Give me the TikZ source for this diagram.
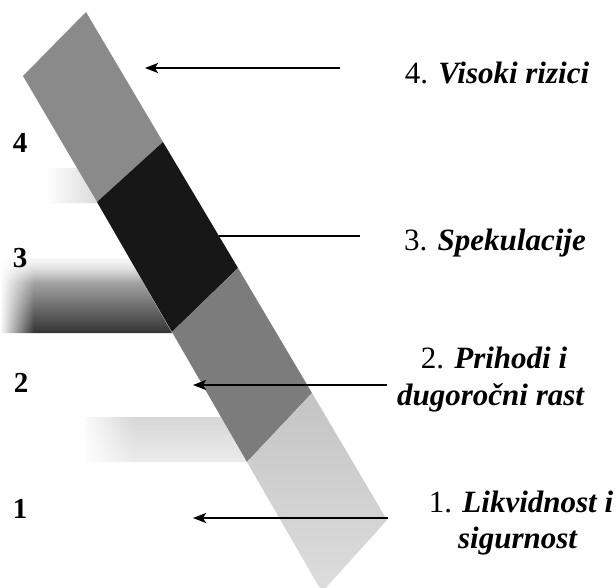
\documentclass[tikz,border=0pt]{standalone}
\usepackage{fontspec}
\setmainfont{Liberation Serif}
\usetikzlibrary{arrows.meta,fadings}
\definecolor{segfour}{HTML}{8A8A8A}
\definecolor{segthree}{HTML}{171717}
\definecolor{segtwo}{HTML}{7C7C7C}
\definecolor{segone}{HTML}{C4C4C4}
\definecolor{segonelow}{HTML}{DDDDDD}
\tikzset{
  arr/.style={line width=1.8pt, -{Stealth[length=13pt,width=10pt,inset=3pt]}},
  plainline/.style={line width=1.8pt},
  lbl/.style={anchor=base, inner sep=0pt, font=\fontsize{31}{37}\selectfont},
  num/.style={anchor=base, inner sep=0pt, font=\fontsize{29}{34}\selectfont\bfseries},
}
\begin{document}
\begin{tikzpicture}[x=1pt,y=-1pt]
\useasboundingbox (0,0) rectangle (616,587);
\fill[white] (0,0) rectangle (616,587);

% band corner coordinates
\coordinate (L0) at (23,76);   \coordinate (R0) at (86,12);
\coordinate (L1) at (97,202);  \coordinate (R1) at (163,142);
\coordinate (L2) at (172,332); \coordinate (R2) at (238,268);
\coordinate (L3) at (247,462); \coordinate (R3) at (312,393);
\coordinate (L4) at (322,592); \coordinate (R4) at (387,520);

% shadows on the left
\shade[left color=white, right color=gray!28] (45,168) -- (77,168) -- (97,203) -- (45,203) -- cycle;
\shade[top color=gray!30, bottom color=black!80] (0,258) -- (129,258) -- (172,333) -- (0,333) -- cycle;
\fill[white, path fading=south] (0,254) rectangle (175,282);
\fill[white, path fading=east] (0,254) rectangle (34,338);
\shade[top color=gray!32, bottom color=gray!15] (85,417) -- (221,417) -- (247,462) -- (85,462) -- cycle;
\fill[white, path fading=east] (80,412) rectangle (135,467);

% band segments
\fill[segfour] (L0) -- (R0) -- (R1) -- (L1) -- cycle;
\fill[segthree] (L1) -- (R1) -- (R2) -- (L2) -- cycle;
\fill[segtwo] (L2) -- (R2) -- (R3) -- (L3) -- cycle;
\shade[top color=segone, bottom color=segonelow] (L3) -- (R3) -- (R4) -- (L4) -- cycle;

% level numbers
\node[num] (n4) at (20,152) {4};
\node[num] (n3) at (20,267) {3};
\node[num] (n2) at (21,392) {2};
\node[num] (n1) at (20,518) {1};

% labels
\node[lbl] (t4) at (497,83) {4. \textbf{\textit{Visoki rizici}}};
\node[lbl] (t3) at (495,250) {3. \textbf{\textit{Spekulacije}}};
\node[lbl] (t2a) at (494,368) {2. \textbf{\textit{Prihodi i}}};
\node[lbl] (t2b) at (491,405) {\textbf{\textit{dugoročni rast}}};
\node[lbl] (t1a) at (521,512) {1. \textbf{\textit{Likvidnost i}}};
\node[lbl] (t1b) at (518,548) {\textbf{\textit{sigurnost}}};

% connectors
\coordinate (a4s) at (340,68);  \coordinate (a4e) at (145,68);
\coordinate (a3s) at (360,236); \coordinate (a3e) at (219,236);
\coordinate (a2s) at (387,385); \coordinate (a2e) at (193,385);
\coordinate (a1s) at (388,518); \coordinate (a1e) at (193,518);
\draw[arr] (a4s) -- (a4e);
\draw[plainline] (a3s) -- (a3e);
\draw[arr] (a2s) -- (a2e);
\draw[arr] (a1s) -- (a1e);
\end{tikzpicture}
\end{document}
